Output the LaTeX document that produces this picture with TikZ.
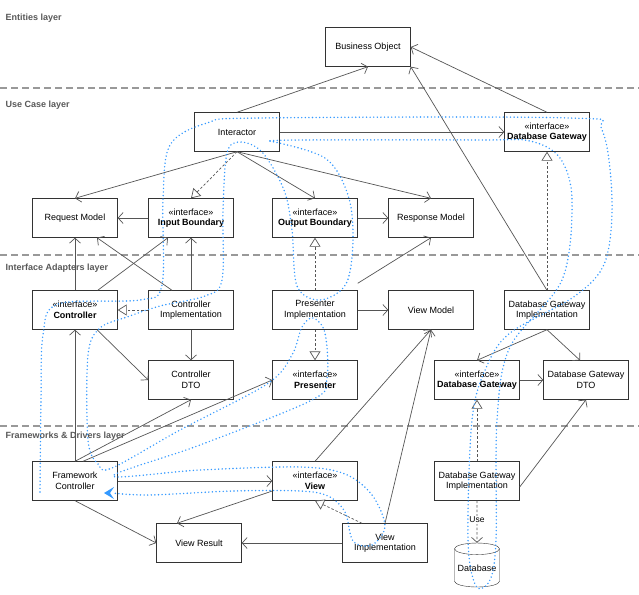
\documentclass[tikz,border=0pt]{standalone}
\usepackage{fontspec}
\setmainfont{Liberation Sans}
\usetikzlibrary{arrows.meta,shapes.geometric}
\definecolor{edge}{HTML}{555555}
\definecolor{flow}{HTML}{3399FF}
\begin{document}
\begin{tikzpicture}[x=1pt,y=-1pt,
  box/.style={draw=black!80,fill=white,minimum width=85pt,minimum height=39pt,align=center,font=\fontsize{9}{10.5}\selectfont,inner sep=1pt},
  lay/.style={font=\bfseries\fontsize{9}{10}\selectfont,text=black!65,anchor=west},
  ln/.style={draw=black!40,line width=1.6pt,dash pattern=on 7pt off 4pt},
  as/.style={draw=edge,line width=0.7pt,-{Straight Barb[length=5pt,width=11pt]}},
  rl/.style={draw=edge,line width=0.7pt,dashed,dash pattern=on 2.5pt off 2pt,-{Triangle[open,length=9pt,width=11pt,fill=white]}},
  fl/.style={draw=flow,line width=1.6pt,dash pattern=on 0pt off 3.6pt,line cap=round}]
\useasboundingbox (0,0) rectangle (639,594);
\fill[white] (0,0) rectangle (639,594);
% layers
\draw[ln] (0,88) -- (639,88);
\draw[ln] (0,255) -- (639,255);
\draw[ln] (0,426) -- (639,426);
\node[lay] (l1) at (2,18) {Entities layer};
\node[lay] (l2) at (2,105) {Use Case layer};
\node[lay] (l3) at (2,268) {Interface Adapters layer};
\node[lay] (l4) at (2,436) {Frameworks \& Drivers layer};
% nodes
\node[box] (bo) at (368,47) {Business Object};
\node[box] (int) at (237,132) {Interactor};
\node[box] (dbg1) at (547,132) {«interface»\\\textbf{Database Gateway}};
\node[box] (req) at (75,218) {Request Model};
\node[box] (ib) at (191,218) {«interface»\\\textbf{Input Boundary}};
\node[box] (ob) at (315,218) {«interface»\\\textbf{Output Boundary}};
\node[box] (resp) at (431,218) {Response Model};
\node[box] (ctl) at (75,310) {«interface»\\\textbf{Controller}};
\node[box] (ci) at (191,310) {Controller\\Implementation};
\node[box] (pi) at (315,310) {Presenter\\Implementation};
\node[box] (vm) at (431,310) {View Model};
\node[box] (dgi1) at (547,310) {Database Gateway\\Implementation};
\node[box] (cdto) at (191,380) {Controller\\DTO};
\node[box] (pres) at (315,380) {«interface»\\\textbf{Presenter}};
\node[box] (dbg2) at (477,380) {«interface»\\\textbf{Database Gateway}};
\node[box] (ddto) at (586,380) {Database Gateway\\DTO};
\node[box] (fc) at (75,481) {Framework\\Controller};
\node[box] (view) at (315,481) {«interface»\\\textbf{View}};
\node[box] (dgi2) at (477,481) {Database Gateway\\Implementation};
\node[box] (vr) at (199,543) {View Result};
\node[box] (vi) at (385,543) {View\\Implementation};
\node[cylinder,shape border rotate=90,draw=black!80,fill=white,minimum width=45pt,minimum height=44pt,aspect=0.3,inner sep=0pt,font=\fontsize{9}{10}\selectfont] (db) at (477,568) {\raisebox{-4pt}{Database}};
% edges
\draw[as] (int.north) -- (bo.south);
\draw[as] (dgi1.north) -- (bo.south east);
\draw[as] (dbg1.north) -- (bo.east);
\draw[as] (int.east) -- (dbg1.west);
\draw[as] (int.south) -- (req.north);
\draw[rl] (int.south) -- (ib.north);
\draw[as] (int.south) -- (ob.north);
\draw[as] (int.south) -- (resp.north);
\draw[as] (ib.west) -- (req.east);
\draw[as] (ob.east) -- (resp.west);
\draw[as] (ctl.north) -- (req.south);
\draw[as] (ctl.north east) ++(-20,0) coordinate (c1) (c1) -- ([xshift=-23pt]ib.south);
\draw[as] ([xshift=-19pt]ci.north) -- ([xshift=22pt]req.south);
\draw[as] (ci.north) -- (ib.south);
\draw[rl] (ci.west) -- (ctl.east);
\draw[as] (ci.south) -- (cdto.north);
\draw[as] ([xshift=22pt]ctl.south) -- (cdto.west);
\draw[rl] (pi.north) -- (ob.south);
\draw[rl] (pi.south) -- (pres.north);
\draw[as] (pi.east) -- (vm.west);
\draw[as] ([yshift=7pt]pi.north east) -- (resp.south);
\draw[as] (dgi1.south) -- (dbg2.north);
\draw[as] (dgi1.south) -- ([xshift=-6pt]ddto.north);
\draw[rl] (dgi1.north) -- (dbg1.south);
\draw[as] (dbg2.east) -- (ddto.west);
\draw[rl] (dgi2.north) -- (dbg2.south);
\draw[as] ([yshift=-6pt]dgi2.east) -- (ddto.south);
\draw[as,dashed,dash pattern=on 2.5pt off 2pt] (dgi2.south) -- node[fill=white,inner sep=1pt,pos=0.45,font=\fontsize{8.5}{9}\selectfont]{Use} (db.north);
\draw[as] (fc.north) -- (ctl.south);
\draw[as] (fc.north) -- (cdto.south);
\draw[as] ([xshift=8pt]fc.north) -- (pres.west);
\draw[as] (fc.east) -- (view.west);
\draw[as] (fc.south) -- (vr.west);
\draw[as] (view.north) -- (vm.south);
\draw[as] ([yshift=-10pt]view.west) -- ([xshift=-22pt]vr.north);
\draw[rl] ([xshift=-23pt]vi.north) -- (view.south);
\draw[as] (vi.north) -- (vm.south);
\draw[as] (vi.west) -- (vr.east);
% flow
\draw[fl] plot[smooth,tension=0.55] coordinates {(40,492) (41,400) (43,335) (58,304) (140,300) (162,285) (163,200) (170,145) (207,123) (260,118) (570,118) (602,130) (612,200) (605,262) (575,296) (510,333) (486,368) (472,420) (468,540) (476,586) (490,580) (496,540) (497,420) (510,347) (562,280) (572,200) (560,158) (530,141) (480,140) (300,140) (270,141)};
\draw[fl] plot[smooth,tension=0.55] coordinates {(270,141) (325,158) (348,195) (353,240) (346,284) (320,300) (297,286) (292,230) (284,190) (262,152) (240,142) (227,153) (223,210) (222,280) (205,296) (160,306) (127,317) (100,328) (88,355) (88,440) (98,464) (112,468) (180,430) (267,384) (292,355) (302,327) (313,318) (325,333) (327,378) (312,400) (200,445) (113,476) (200,470) (300,467) (345,474) (372,495) (385,526) (372,545) (353,541) (345,512) (328,496) (300,491) (233,491) (150,495) (112,493)};
\fill[flow] (104,493) -- (114,487) -- (110,493) -- (114,499) -- cycle;
\end{tikzpicture}
\end{document}
